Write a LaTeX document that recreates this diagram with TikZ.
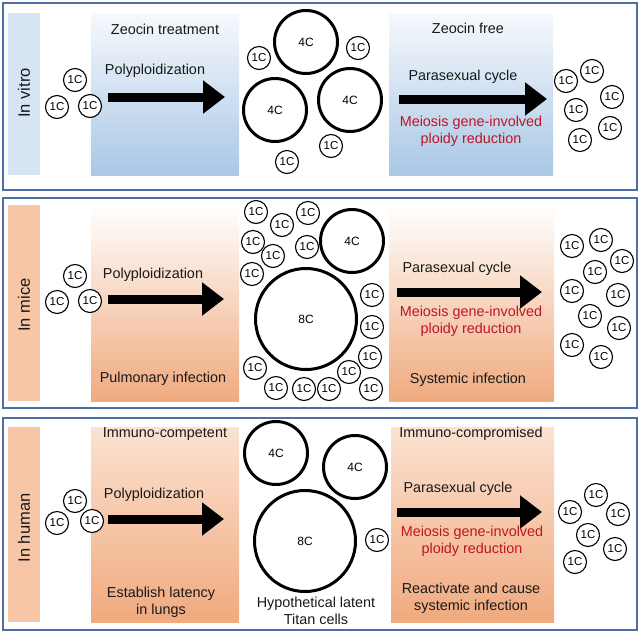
\documentclass[tikz,border=0pt]{standalone}
\usepackage{fontspec}
\setmainfont{Liberation Sans}
\usetikzlibrary{arrows.meta}
\definecolor{frame}{RGB}{78,110,170}
\definecolor{bluebar}{RGB}{214,228,243}
\definecolor{bluetop}{RGB}{246,249,253}
\definecolor{bluebot}{RGB}{170,199,230}
\definecolor{orbar}{RGB}{246,198,166}
\definecolor{ortop}{RGB}{253,244,238}
\definecolor{ortop3}{RGB}{251,226,210}
\definecolor{orbot}{RGB}{240,170,126}
\definecolor{redtxt}{RGB}{190,22,36}
\definecolor{txt}{RGB}{25,25,25}
\begin{document}
\begin{tikzpicture}[x=1pt,y=-1pt,
  panel/.style={draw=frame,line width=1.3pt},
  lbl/.style={font=\fontsize{14.4}{17}\selectfont,text=txt,inner sep=0pt,align=center},
  redlbl/.style={lbl,text=redtxt},
  side/.style={lbl,rotate=90,font=\fontsize{16.5}{18}\selectfont},
  one/.style={circle,draw=black,fill=white,line width=1.1pt,minimum size=23pt,inner sep=0pt,font=\fontsize{11.5}{12}\selectfont},
  four/.style={circle,draw=black,fill=white,line width=3pt,minimum size=63pt,inner sep=0pt,font=\fontsize{12}{13}\selectfont},
  eight/.style={circle,draw=black,fill=white,line width=3pt,minimum size=101pt,inner sep=0pt,font=\fontsize{12}{13}\selectfont},
  bigarrow/.style={line width=9pt,-{Triangle[length=22pt,width=32pt]}}
]
\useasboundingbox (0,0) rectangle (640,633);
\fill[white] (0,0) rectangle (640,633);

% ---------- Panel 1 : in vitro ----------
\draw[panel] (3,3) rectangle (637,190);
\fill[bluebar] (8,13) rectangle (40,175);
\shade[top color=bluetop,bottom color=bluebot] (91,13) rectangle (239,175);
\shade[top color=bluetop,bottom color=bluebot] (389,13) rectangle (553,175);
\node[side] (s1) at (24,93) {In vitro};
\node[lbl] (t1a) at (165,29) {Zeocin treatment};
\node[lbl] (t1b) at (155,71) {Polyploidization};
\node[lbl] (t1c) at (468,28) {Zeocin free};
\node[lbl] (t1d) at (463,77) {Parasexual cycle};
\node[redlbl] (t1e) at (471,131.5) {Meiosis gene-involved\\ploidy reduction};
\coordinate (a1s) at (108,97); \coordinate (a1e) at (225,97);
\coordinate (b1s) at (399,99); \coordinate (b1e) at (547,99);
\draw[bigarrow] (a1s) -- (a1e);
\draw[bigarrow] (b1s) -- (b1e);
\node[one] (l1a) at (75,80) {1C};
\node[one] (l1b) at (57,107) {1C};
\node[one] (l1c) at (90,106) {1C};
\node[four] (m1a) at (306,42) {4C};
\node[four] (m1b) at (275,110) {4C};
\node[four] (m1c) at (350,100) {4C};
\node[one] (m1d) at (259,58) {1C};
\node[one] (m1e) at (358,48) {1C};
\node[one] (m1f) at (331,146) {1C};
\node[one] (m1g) at (287,162) {1C};
\node[one] (r1a) at (566,81) {1C};
\node[one] (r1b) at (592,71) {1C};
\node[one] (r1c) at (612,97) {1C};
\node[one] (r1d) at (576,110) {1C};
\node[one] (r1e) at (610,128) {1C};
\node[one] (r1f) at (580,140) {1C};

% ---------- Panel 2 : in mice ----------
\draw[panel] (3,198) rectangle (637,408);
\fill[orbar] (8,205) rectangle (40,401);
\shade[top color=white,bottom color=orbot] (91,205) rectangle (239,401);
\shade[top color=white,bottom color=orbot] (389,205) rectangle (554,401);
\node[side] (s2) at (24,305) {In mice};
\node[lbl] (t2a) at (153,275) {Polyploidization};
\node[lbl] (t2b) at (163,379) {Pulmonary infection};
\node[lbl] (t2c) at (457,269) {Parasexual cycle};
\node[redlbl] (t2d) at (471,321) {Meiosis gene-involved\\ploidy reduction};
\node[lbl] (t2e) at (468,380) {Systemic infection};
\coordinate (a2s) at (108,299); \coordinate (a2e) at (224,299);
\coordinate (b2s) at (397,292); \coordinate (b2e) at (542,292);
\draw[bigarrow] (a2s) -- (a2e);
\draw[bigarrow] (b2s) -- (b2e);
\node[one] (l2a) at (75,276) {1C};
\node[one] (l2b) at (57,302) {1C};
\node[one] (l2c) at (90,301) {1C};
\node[four] (m2a) at (352,241) {4C};
\node[eight] (m2b) at (306,319) {8C};
\node[one] (m2c) at (256,212) {1C};
\node[one] (m2d) at (282,225) {1C};
\node[one] (m2e) at (308,213) {1C};
\node[one] (m2f) at (253,242) {1C};
\node[one] (m2g) at (273,256) {1C};
\node[one] (m2h) at (307,247) {1C};
\node[one] (m2i) at (252,274) {1C};
\node[one] (m2j) at (372,295) {1C};
\node[one] (m2k) at (372,327) {1C};
\node[one] (m2l) at (370,357) {1C};
\node[one] (m2m) at (349,372) {1C};
\node[one] (m2n) at (255,368) {1C};
\node[one] (m2o) at (276,388) {1C};
\node[one] (m2p) at (304,389) {1C};
\node[one] (m2q) at (329,389) {1C};
\node[one] (m2r) at (371,389) {1C};
\node[one] (r2a) at (572,246) {1C};
\node[one] (r2b) at (601,240) {1C};
\node[one] (r2c) at (622,261) {1C};
\node[one] (r2d) at (595,272) {1C};
\node[one] (r2e) at (572,291) {1C};
\node[one] (r2f) at (618,295) {1C};
\node[one] (r2g) at (590,316) {1C};
\node[one] (r2h) at (619,328) {1C};
\node[one] (r2i) at (572,345) {1C};
\node[one] (r2j) at (601,357) {1C};

% ---------- Panel 3 : in human ----------
\draw[panel] (3,418) rectangle (637,630);
\fill[orbar] (8,427) rectangle (40,622);
\shade[top color=ortop3,bottom color=orbot] (91,427) rectangle (239,622);
\shade[top color=ortop3,bottom color=orbot] (391,427) rectangle (554,622);
\node[side] (s3) at (24,528) {In human};
\node[lbl] (t3a) at (165,434) {Immuno-competent};
\node[lbl] (t3b) at (154,495) {Polyploidization};
\node[lbl] (t3c) at (161,602.5) {Establish latency\\in lungs};
\node[lbl] (t3d) at (316,611) {Hypothetical latent\\Titan cells};
\node[lbl] (t3e) at (471,434) {Immuno-compromised};
\node[lbl] (t3f) at (458,489) {Parasexual cycle};
\node[redlbl] (t3g) at (472,541.5) {Meiosis gene-involved\\ploidy reduction};
\node[lbl] (t3h) at (471,598.5) {Reactivate and cause\\systemic infection};
\coordinate (a3s) at (108,519); \coordinate (a3e) at (224,519);
\coordinate (b3s) at (397,512); \coordinate (b3e) at (542,512);
\draw[bigarrow] (a3s) -- (a3e);
\draw[bigarrow] (b3s) -- (b3e);
\node[one] (l3a) at (75,501) {1C};
\node[one] (l3b) at (57,523) {1C};
\node[one] (l3c) at (92,521) {1C};
\node[four] (m3a) at (276,453) {4C};
\node[four] (m3b) at (355,467) {4C};
\node[eight] (m3c) at (305,541) {8C};
\node[one] (m3d) at (377,540) {1C};
\node[one] (r3a) at (596,495) {1C};
\node[one] (r3b) at (570,512) {1C};
\node[one] (r3c) at (618,514) {1C};
\node[one] (r3d) at (588,535) {1C};
\node[one] (r3e) at (615,549) {1C};
\node[one] (r3f) at (575,562) {1C};
\end{tikzpicture}
\end{document}
